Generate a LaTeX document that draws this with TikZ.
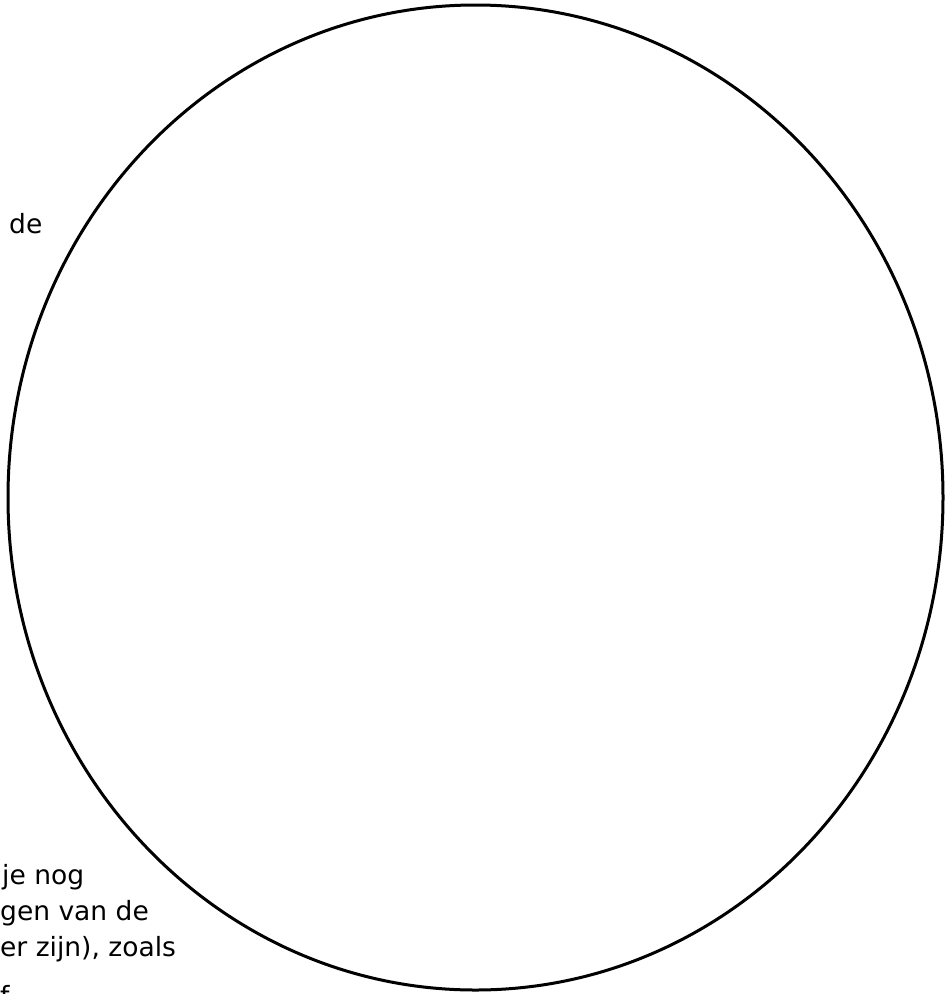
\documentclass[tikz,border=0pt]{standalone}
\usepackage{fontspec}
\setmainfont{DejaVu Sans}
\begin{document}
\begin{tikzpicture}[x=1pt,y=-1pt,
  txt/.style={anchor=base west,inner sep=0pt,font=\fontsize{26.5}{32}\selectfont}]
\path[use as bounding box] (0,0) rectangle (951,994);
\clip (0,0) rectangle (951,994);
\fill[white] (0,0) rectangle (951,994);
\draw[line width=3pt] (475.5,497.5) ellipse [x radius=467.5, y radius=492.5];
\node[txt] (t1) at (9,233) {de};
\node[txt] (t2) at (2,884) {je nog};
\node[txt] (t3) at (0,920) {gen van de};
\node[txt] (t4) at (0,956) {er zijn), zoals};
\node[txt] (t5) at (0,1005) {f};
\end{tikzpicture}
\end{document}
